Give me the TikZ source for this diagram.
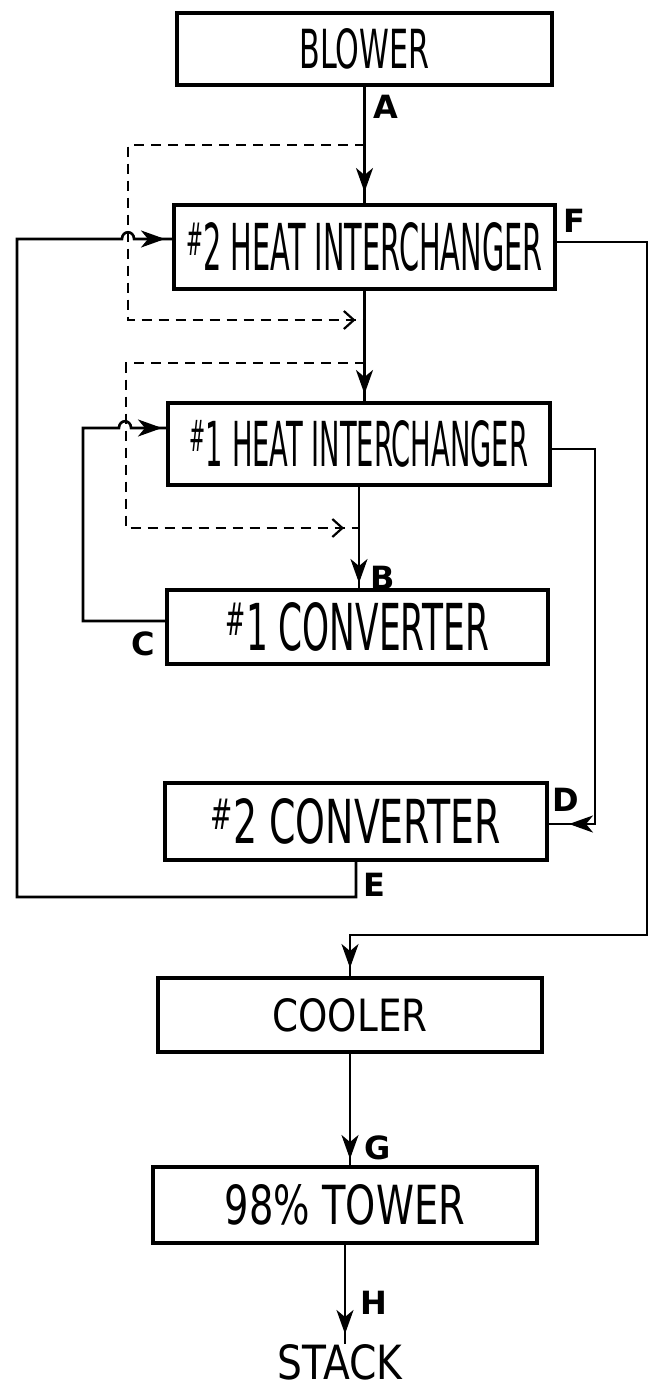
\documentclass[tikz,border=0pt]{standalone}
\usepackage{fontspec}
\setmainfont{DejaVu Sans}
\usetikzlibrary{arrows.meta,decorations.markings}
\newcommand{\hsh}{\raisebox{2.4pt}{\fontsize{7}{7}\selectfont\#}}
\newcommand{\fitt}[3]{\resizebox{#1pt}{#2pt}{\fontsize{10}{12}\selectfont #3}}
\tikzset{
  box/.style={draw=black, line width=4pt, rectangle, inner sep=0pt},
  conn/.style={line width=2.6pt, line join=miter},
  dsh/.style={line width=2pt, dash pattern=on 10pt off 7pt},
  tipat/.style={postaction={decorate}, decoration={markings, mark=at position #1 with {\arrow[line width=2.6pt]{Stealth[length=24pt,width=17pt,inset=7pt]}}}},
  dtipat/.style={postaction={decorate}, decoration={markings, mark=at position #1 with {\arrow[line width=2.2pt]{Straight Barb[length=10pt,width=18pt]}}}},
  lab/.style={inner sep=0pt, font=\fontsize{32}{32}\selectfont\bfseries},
}
\begin{document}
\begin{tikzpicture}[x=1pt,y=-1pt]
\fill[white] (0,0) rectangle (652,1390);
\useasboundingbox (0,0) rectangle (652,1390);

% boxes
\node[box, minimum width=375pt, minimum height=72pt] (blower) at (364.5,49) {\fitt{130}{40}{BLOWER}};
\node[box, minimum width=381pt, minimum height=84pt] (hi2) at (364.5,247) {\fitt{356}{48}{\hsh2 HEAT INTERCHANGER}};
\node[box, minimum width=382pt, minimum height=82pt] (hi1) at (359,444) {\fitt{338}{46}{\hsh1 HEAT INTERCHANGER}};
\node[box, minimum width=381pt, minimum height=74pt] (conv1) at (357.5,627) {\fitt{263}{48}{\hsh1 CONVERTER}};
\node[box, minimum width=382pt, minimum height=77pt] (conv2) at (356,821.5) {\fitt{290}{45}{\hsh2 CONVERTER}};
\node[box, minimum width=384pt, minimum height=74pt] (cooler) at (350,1015) {\fitt{155}{33}{COOLER}};
\node[box, minimum width=384pt, minimum height=76pt] (tower) at (345,1205) {\fitt{240}{40}{98\% TOWER}};
\node[inner sep=0pt] (stack) at (340,1362) {\fitt{125}{35}{STACK}};

% letters
\node[lab] (la) at (386,107) {A};
\node[lab] (lb) at (383,578) {B};
\node[lab] (lc) at (143,644) {C};
\node[lab] (ld) at (566,800) {D};
\node[lab] (le) at (374,885) {E};
\node[lab] (lf) at (574,221) {F};
\node[lab] (lg) at (378,1148) {G};
\node[lab] (lh) at (374,1303) {H};

% helper coordinates
\coordinate (d1a) at (128,145);
\coordinate (d1b) at (128,320);
\coordinate (d2a) at (126,363);
\coordinate (d2b) at (126,528);
\coordinate (ct) at (83,428);
\coordinate (cb) at (83,621);
\coordinate (et) at (17,239);
\coordinate (eb) at (17,897);
\coordinate (ft) at (647,242);
\coordinate (fb) at (647,935);
\coordinate (dt) at (595,449);
\coordinate (db) at (595,824);

% main vertical flow
\draw[conn, tipat=-11pt] (blower.south) -- (blower.south |- hi2.north);
\draw[conn, tipat=-7pt] (hi2.south) -- (hi2.south |- hi1.north);
\draw[conn, tipat=-5pt] (hi1.south) -- (hi1.south |- conv1.north);
\draw[conn, tipat=-6pt] (cooler.south) -- (cooler.south |- tower.north);
\draw[conn, tipat=-10pt] (tower.south) -- (tower.south |- stack.north);

% dashed bypasses
\draw[dsh, dtipat=-9pt] (blower.south |- d1a) -- (d1a) -- (d1b) -- (hi2.south |- d1b);
\draw[dsh, dtipat=-15pt] (hi2.south |- d2a) -- (d2a) -- (d2b) -- (hi1.south |- d2b);

% C loop : #1 converter -> #1 heat interchanger
\draw[conn, tipat=-4pt] (conv1.west |- cb) -- (cb) -- (ct) -- (119,428)
  .. controls (119,419) and (131,419) .. (131,428) -- (ct -| hi1.west);

% E loop : #2 converter -> #2 heat interchanger
\draw[conn, tipat=-7pt] (conv2.south) -- (conv2.south |- eb) -- (eb) -- (et) -- (122,239)
  .. controls (122,230) and (134,230) .. (134,239) -- (et -| hi2.west);

% D : #1 heat interchanger -> #2 converter
\draw[conn, tipat=-20pt] (hi1.east |- dt) -- (dt) -- (db) -- (db -| conv2.east);

% F : #2 heat interchanger -> cooler
\draw[conn, tipat=-8pt] (hi2.east |- ft) -- (ft) -- (fb) -- (fb -| cooler.north) -- (cooler.north);
\end{tikzpicture}
\end{document}
